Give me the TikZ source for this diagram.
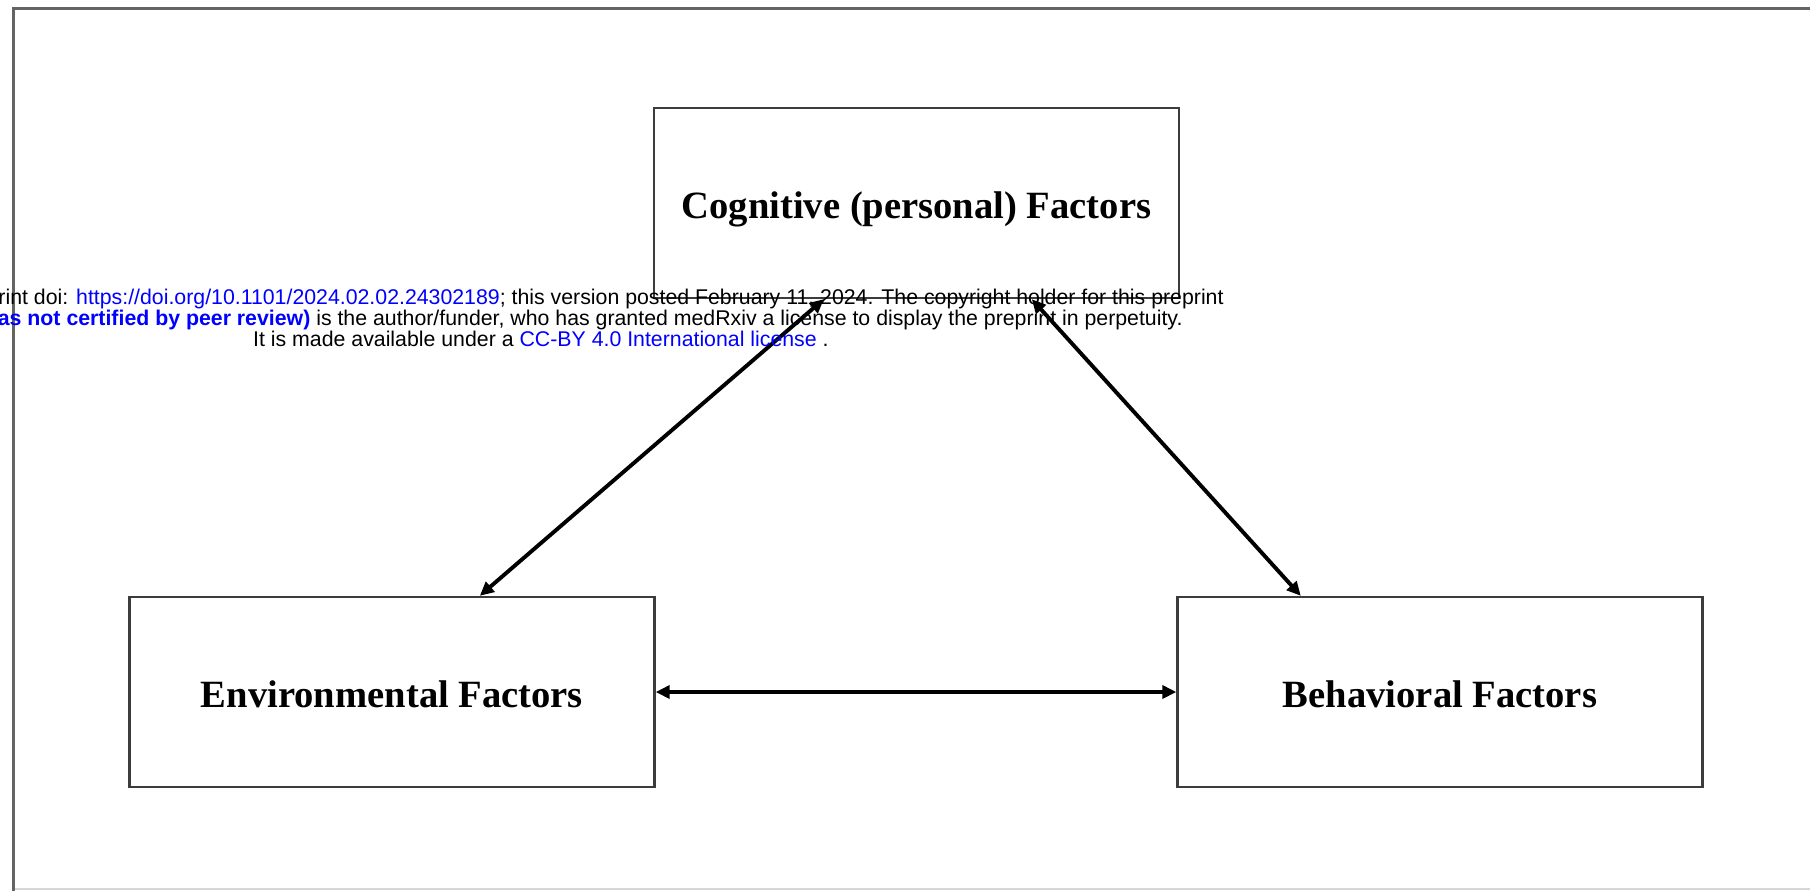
\documentclass[tikz,border=0pt]{standalone}
\usepackage{fontspec}
\usetikzlibrary{arrows.meta,calc}
\newfontfamily\lserif{Liberation Serif}
\newfontfamily\lsans{Liberation Sans}
\definecolor{boxgray}{RGB}{60,60,60}
\definecolor{framegray}{RGB}{100,100,100}
\definecolor{faintgray}{RGB}{215,215,215}
\definecolor{linkblue}{RGB}{0,0,255}
\begin{document}
\begin{tikzpicture}[x=0.5pt,y=-0.5pt,
  factor/.style={draw=boxgray, line width=1.2pt, minimum width=262.5pt, minimum height=95pt,
    inner sep=0pt, text height=15pt, text depth=0pt,
    font=\lserif\bfseries\fontsize{19.3}{23}\selectfont},
  link/.style={line width=1.95pt, {Triangle[length=7pt,width=6.5pt]}-{Triangle[length=7pt,width=6.5pt]}},
  stamp/.style={font=\lsans\fontsize{10.65}{10.65}\selectfont, inner sep=0pt, anchor=base east},
]
\useasboundingbox (0,0) rectangle (1810,891);
\fill[white] (0,0) rectangle (1810,891);
% outer frame
\coordinate (fb) at (13.5,891);
\coordinate (ftl) at (13.5,8.5);
\coordinate (ftr) at (1812,8.5);
\coordinate (fbl) at (13.5,889);
\coordinate (fbr) at (1812,889);
\draw[faintgray, line width=0.8pt] (fbl) -- (fbr);
\draw[framegray, line width=1.8pt] (fb) -- (ftl) -- (ftr);
% boxes
\node[factor] (cog) at (916.5,203) {Cognitive (personal) Factors};
\node[factor] (env) at (392,692) {Environmental Factors};
\node[factor] (beh) at (1440,692) {Behavioral Factors};
% connectors
\draw[link] (env.east) -- (beh.west);
\draw[link] ($(cog.south west)+(171,0)$) -- ($(env.north west)+(351.5,0)$);
\draw[link] ($(cog.south west)+(379,0)$) -- ($(beh.north west)+(124.5,0)$);
% stamp
\begin{scope}
\clip (0,0) rectangle (1810,891);
\node[stamp] (s1) at (1224,304) {rint doi: \textcolor{linkblue}{https://doi.org/10.1101/2024.02.02.24302189}; this version posted February 11, 2024. The copyright holder for this preprint};
\node[stamp] (s2) at (1183,325) {\textcolor{linkblue}{\bfseries as not certified by peer review)} is the author/funder, who has granted medRxiv a license to display the preprint in perpetuity.};
\node[stamp] (s3) at (829,346) {It is made available under a \textcolor{linkblue}{CC-BY 4.0 International license} .};
\end{scope}
\end{tikzpicture}
\end{document}
